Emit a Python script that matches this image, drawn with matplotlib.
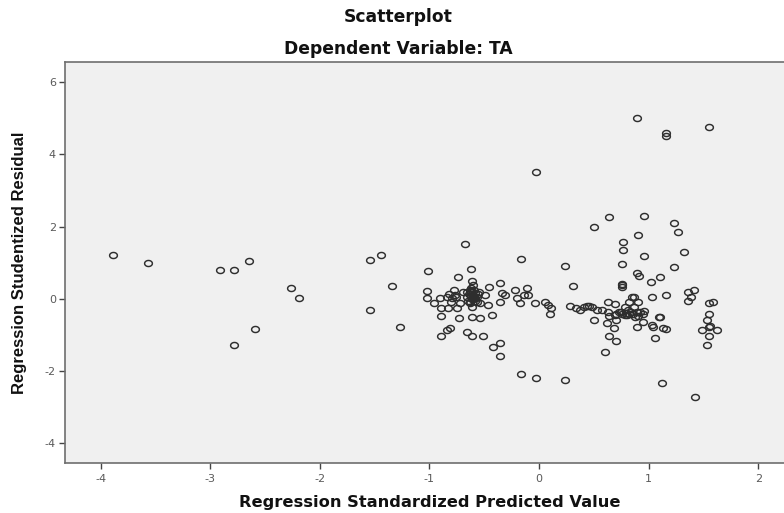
import matplotlib
matplotlib.use("Agg")
import matplotlib.pyplot as plt
from matplotlib.path import Path
import numpy as np

plt.rcParams['axes.unicode_minus'] = False

# ---- data ----
# Regression Standardized Predicted Value
pred = [
    -3.89, -3.57, -2.91, -2.78, -2.65, -2.26, -2.19, -2.59, -2.78,
    -1.54, -1.44, -1.34, -1.54, -1.27,
    -1.01, -0.62, -0.74, -0.61, -0.36, -0.68, -0.16, 0.24, 0.50,
    -1.02, -1.02, -0.96, -0.90, -0.89, -0.89, -0.84, -0.78, -0.80, -0.75, -0.73,
    -0.69, -0.66, -0.63, -0.63, -0.60, -0.58, -0.55, -0.54, -0.61, -0.49, -0.46,
    -0.47, -0.43, -0.36, -0.34, -0.61, -0.54, -0.66, -0.61, -0.51, -0.89, -0.84,
    -0.81, -0.31, -0.22, -0.20, -0.14, -0.11, -0.17, -0.10, -0.04, 0.05, 0.08,
    0.10, -0.72, -0.83,
    -0.62, -0.64, -0.60, -0.58, -0.65, -0.62, -0.60, -0.57, -0.63, -0.66, -0.59,
    -0.61, -0.77, -0.79,
    -0.60, -0.58, -0.62, -0.56, -0.59, -0.63, -0.57, -0.61, -0.82, -0.76,
    -0.42, -0.36, -0.36, -0.16, -0.03, 0.24, -0.03,
    0.11, 0.28, 0.37, 0.44, 0.50, 0.53, 0.31, 0.34, 0.48,
    0.89, 1.16, 1.16, 1.55,
    0.64, 0.96, 0.90, 1.23, 1.27, 1.32, 0.77, 0.77, 0.96, 0.76, 1.23, 0.89, 0.91,
    0.76, 0.76, 0.76, 1.10, 1.02, 1.16, 1.03, 0.87, 1.36, 1.41, 1.36, 1.39,
    1.59, 1.55, 1.55, 1.53, 1.55, 1.56, 1.49, 1.62, 1.55, 1.53,
    0.41, 0.46, 0.57, 0.63, 0.63, 0.64, 0.69, 0.70, 0.70, 0.76, 0.78, 0.82, 0.82,
    0.87, 0.89, 0.90, 0.90, 0.95, 0.96, 0.89, 1.04, 1.10, 1.16, 1.06, 0.64, 0.70,
    0.60, 1.12, 1.42,
    0.62, 0.69, 0.75, 0.78, 0.81, 0.85, 0.88, 0.92, 0.95, 1.09, 1.03, 1.13, 0.68,
    0.79, 0.84, 0.80, 0.86, 0.73,
]
# Regression Studentized Residual
resid = [
    1.20, 1.00, 0.79, 0.79, 1.04, 0.29, 0.02, -0.85, -1.28,
    1.07, 1.21, 0.36, -0.31, -0.79,
    0.77, 0.82, 0.61, 0.49, 0.43, 1.52, 1.11, 0.92, 1.98,
    0.21, 0.01, -0.13, 0.01, -0.27, -0.47, 0.06, 0.24, -0.08, -0.27, -0.54,
    0.19, 0.06, 0.24, -0.08, 0.10, 0.01, 0.19, -0.13, -0.22, 0.10, 0.33,
    -0.17, -0.45, -0.08, 0.15, -0.50, -0.52, -0.92, -1.02, -1.03, -1.02, -0.87,
    -0.80, 0.10, 0.24, 0.01, 0.10, 0.31, -0.13, 0.10, -0.13, -0.08, -0.17,
    -0.43, -0.13, -0.27,
    0.05, 0.12, -0.02, 0.15, -0.05, 0.30, 0.38, 0.05, -0.12, 0.20, 0.25,
    0.00, 0.10, 0.02,
    0.08, -0.06, 0.18, 0.12, 0.02, 0.22, -0.10, 0.14, 0.12, 0.04,
    -1.33, -1.24, -1.58, -2.08, -2.19, -2.24, 3.52,
    -0.25, -0.21, -0.32, -0.21, -0.58, -0.32, 0.34, -0.27, -0.22,
    5.00, 4.50, 4.60, 4.75,
    2.26, 2.28, 1.78, 2.09, 1.86, 1.29, 1.57, 1.34, 1.18, 0.97, 0.89, 0.71, 0.62,
    0.42, 0.38, 0.32, 0.60, 0.46, 0.11, 0.04, 0.06, 0.18, 0.23, -0.05, 0.04,
    -0.09, -0.13, -0.42, -0.60, -0.79, -0.75, -0.86, -0.86, -1.02, -1.28,
    -0.23, -0.21, -0.32, -0.09, -0.37, -0.49, -0.14, -0.42, -0.60, -0.42, -0.23, -0.09, -0.42,
    -0.23, -0.37, -0.09, -0.49, -0.42, -0.34, -0.77, -0.77, -0.51, -0.83, -1.09, -1.02, -1.16,
    -1.48, -2.33, -2.71,
    -0.68, -0.45, -0.36, -0.45, -0.31, 0.06, -0.50, -0.36, -0.64, -0.50, -0.73, -0.82, -0.82,
    -0.40, -0.38, -0.44, -0.42, -0.38,
]

x_ticks = [-4, -3, -2, -1, 0, 1, 2]
x_tick_labels = ['-4', '-3', '-2', '-1', '0', '1', '2']
y_ticks = [-4, -2, 0, 2, 4, 6]
y_tick_labels = ['-4', '-2', '0', '2', '4', '6']

title_main = "Scatterplot"
title_sub = "Dependent Variable: TA"
x_label = "Regression Standardized Predicted Value"
y_label = "Regression Studentized Residual"

# ---- figure ----
W, H = 784, 513
fig = plt.figure(figsize=(W / 100, H / 100), dpi=100)
fig.patch.set_facecolor('white')

left_px, right_px, top_px, bottom_px = 65, 784, 62, 463.3
ax = fig.add_axes([left_px / W, 1 - bottom_px / H,
                   (right_px - left_px) / W, (bottom_px - top_px) / H])
ax.set_facecolor('#f0f0f0')

theta = np.linspace(0, 2 * np.pi, 41)
ellipse = Path(np.column_stack([np.cos(theta), 0.78 * np.sin(theta)]))

ax.plot(pred, resid, linestyle='none', marker=ellipse, ms=5.6,
        mfc='none', mec='#2e2e2e', mew=1.05)

ax.set_xlim(-4.325, 2.235)
ax.set_ylim(-4.56, 6.56)
ax.set_xticks(x_ticks)
ax.set_xticklabels(x_tick_labels)
ax.set_yticks(y_ticks)
ax.set_yticklabels(y_tick_labels)
ax.tick_params(axis='both', direction='out', length=4.5, width=1.0,
               color='#444444', labelsize=8, labelcolor='#5a5a5a')
ax.tick_params(axis='x', pad=3.5)
ax.tick_params(axis='y', pad=2)

for s in ['left', 'top', 'bottom']:
    ax.spines[s].set_color('#6e6e6e')
    ax.spines[s].set_linewidth(1.2)
ax.spines['right'].set_visible(False)

ax.set_xlabel(x_label, fontsize=11.7, fontweight='bold', family='DejaVu Sans',
              color='#111111')
ax.xaxis.set_label_coords((430 - left_px) / (right_px - left_px),
                          (bottom_px - 502) / (bottom_px - top_px))
ax.set_ylabel(y_label, fontsize=12, fontweight='bold', family='Liberation Sans',
              color='#111111')
ax.yaxis.set_label_coords((20 - left_px) / (right_px - left_px), 0.5)
ax.yaxis.label.set_va('center')
ax.xaxis.label.set_va('center')

fig.text(398 / W, 1 - 17 / H, title_main, ha='center', va='center',
         fontsize=12.3, fontweight='bold', family='DejaVu Sans', color='#111111')
fig.text(398 / W, 1 - 49 / H, title_sub, ha='center', va='center',
         fontsize=12.3, fontweight='bold', family='DejaVu Sans', color='#111111')

fig.savefig('out.png', dpi=100)
